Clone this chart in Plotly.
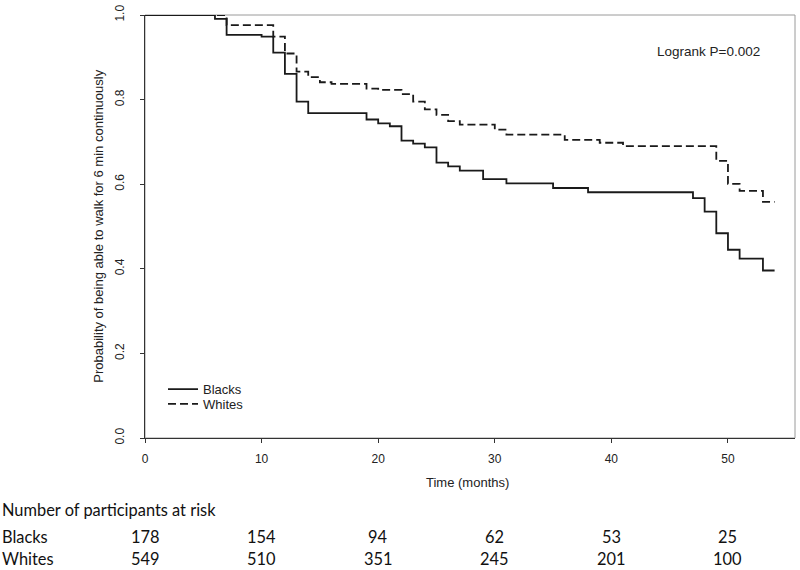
import plotly.graph_objects as go

# Kaplan-Meier step data (months, survival probability)
blacks_t = [0, 6, 7, 10, 11, 12, 13, 14, 19, 20, 21, 22, 23, 24, 25, 26, 27, 29, 31, 35, 38, 47, 48, 49, 50, 51, 53, 54]
blacks_s = [1.0, 0.991, 0.953, 0.949, 0.911, 0.861, 0.795, 0.768, 0.753, 0.744, 0.737, 0.703, 0.696, 0.687, 0.651,
            0.642, 0.632, 0.612, 0.602, 0.591, 0.581, 0.567, 0.535, 0.484, 0.445, 0.424, 0.396, 0.396]

whites_t = [0, 7, 11, 12, 13, 14, 15, 16, 19, 20, 22, 23, 24, 25, 26, 27, 30, 31, 36, 39, 41, 49, 50, 51, 53, 54]
whites_s = [1.0, 0.976, 0.949, 0.909, 0.866, 0.853, 0.841, 0.837, 0.826, 0.823, 0.813, 0.795, 0.777, 0.764, 0.749,
            0.741, 0.729, 0.717, 0.705, 0.698, 0.690, 0.655, 0.601, 0.584, 0.558, 0.558]

# Number at risk table
risk_times = [0, 10, 20, 30, 40, 50]
risk_blacks = [178, 154, 94, 62, 53, 25]
risk_whites = [549, 510, 351, 245, 201, 100]

x_ticks = [0, 10, 20, 30, 40, 50]
y_ticks = [0.0, 0.2, 0.4, 0.6, 0.8, 1.0]

LINE = "#1a1a1a"
AX = "#333333"
FONT = "Liberation Sans, Arial, sans-serif"
TFONT = "Lato, Carlito, Calibri, sans-serif"

fig = go.Figure()
fig.add_trace(go.Scatter(x=blacks_t, y=blacks_s, mode="lines", name="Blacks", legend="legend",
                         line=dict(shape="hv", color=LINE, width=1.8)))
fig.add_trace(go.Scatter(x=whites_t, y=whites_s, mode="lines", name="Whites", legend="legend2",
                         line=dict(shape="hv", color=LINE, width=1.8, dash="8px,4px")))

leg_common = dict(xanchor="left", yanchor="top", bgcolor="rgba(0,0,0,0)",
                  font=dict(size=13, family=FONT), itemwidth=30)

fig.update_layout(
    width=800, height=570,
    margin=dict(l=145, r=5, t=9, b=132),
    plot_bgcolor="white", paper_bgcolor="white",
    font=dict(family=FONT, size=12, color="#222222"),
    showlegend=True,
    legend=dict(x=0.0277, y=0.151, **leg_common),
    legend2=dict(x=0.0277, y=0.116, **leg_common),
    xaxis=dict(range=[0, 55.75], tickvals=x_ticks, showgrid=False, zeroline=False,
               showline=True, linecolor=AX, linewidth=1, ticks="outside", ticklen=4,
               tickcolor=AX, tickfont=dict(size=12), ticklabelstandoff=6, ticklabeloverflow="allow"),
    yaxis=dict(range=[0, 1], tickvals=y_ticks, tickformat=".1f", showgrid=False, zeroline=False,
               showline=True, linecolor=AX, linewidth=1, ticks="outside", ticklen=4,
               tickcolor=AX, tickangle=-90, tickfont=dict(size=12), ticklabelstandoff=11,
               ticklabeloverflow="allow"),
    shapes=[dict(type="rect", xref="paper", yref="paper", x0=0, y0=0, x1=1, y1=1,
                 line=dict(color="#9a9a9a", width=1), layer="below")],
)

ann = []
ann.append(dict(text="Probability of being able to walk for 6 min continuously", xref="paper", yref="paper",
                x=-0.072, y=0.5, textangle=-90, showarrow=False, xanchor="center", yanchor="middle",
                font=dict(size=13, family=FONT)))
ann.append(dict(text="Time (months)", xref="paper", yref="paper", x=(467 - 145) / 650, y=(437.7 - 483) / 429,
                showarrow=False, xanchor="center", yanchor="middle", font=dict(size=13, family=FONT)))
ann.append(dict(text="Logrank P=0.002", xref="paper", yref="paper", x=(708 - 145) / 650, y=(437.7 - 46) / 429,
                showarrow=False, xanchor="center", yanchor="middle", font=dict(size=13.5, family=FONT)))
ann.append(dict(text="Number of participants at risk", xref="paper", yref="paper", x=-145 / 650,
                y=(437.7 - 510) / 429, showarrow=False, xanchor="left", yanchor="middle",
                font=dict(size=16.4, family=TFONT, color="#111111")))
for label, vals, ypix in [("Blacks", risk_blacks, 538), ("Whites", risk_whites, 560)]:
    yp = (437.7 - ypix) / 429
    ann.append(dict(text=label, xref="paper", yref="paper", x=-145 / 650, y=yp, showarrow=False,
                    xanchor="left", yanchor="middle", font=dict(size=16.4, family=TFONT, color="#111111")))
    for t, v in zip(risk_times, vals):
        ann.append(dict(text=str(v), xref="x", yref="paper", x=t, y=yp, showarrow=False,
                        xanchor="center", yanchor="middle", font=dict(size=16.4, family=TFONT, color="#111111")))
fig.update_layout(annotations=ann)

fig.write_html("out.html", config={"displayModeBar": False},
               post_script="document.body.style.margin='0';document.body.style.overflow='hidden';")
